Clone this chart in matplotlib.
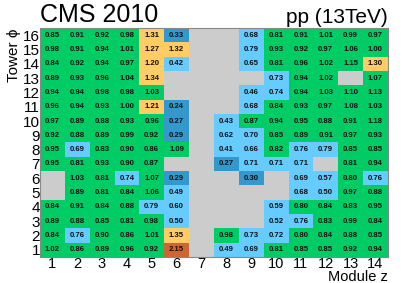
import numpy as np
import matplotlib
matplotlib.use("Agg")
import matplotlib.pyplot as plt
from matplotlib.colors import ListedColormap, BoundaryNorm

plt.rcParams["font.family"] = ["Liberation Sans", "DejaVu Sans"]

nan = np.nan

# response per tower, rows are phi 16 (top) down to 1 (bottom), columns z 1..14
phi_labels = list(range(16, 0, -1))
z_labels = list(range(1, 15))
values = [
    [0.85, 0.91, 0.92, 0.98, 1.31, 0.33, nan, nan, 0.68, 0.81, 0.91, 1.01, 0.99, 0.97],
    [0.98, 0.91, 0.94, 1.01, 1.27, 1.32, nan, nan, 0.79, 0.93, 0.92, 0.97, 1.06, 1.00],
    [0.84, 0.92, 0.94, 0.97, 1.20, 0.42, nan, nan, 0.65, 0.81, 0.96, 1.02, 1.15, 1.30],
    [0.89, 0.93, 0.96, 1.04, 1.34, nan, nan, nan, nan, 0.73, 0.94, 1.02, nan, 1.07],
    [0.94, 0.94, 0.98, 0.98, 1.03, nan, nan, nan, 0.46, 0.74, 0.94, 1.03, 1.10, 1.13],
    [0.96, 0.94, 0.93, 1.00, 1.21, 0.24, nan, nan, 0.68, 0.84, 0.93, 0.97, 1.08, 1.03],
    [0.97, 0.89, 0.88, 0.93, 0.96, 0.27, nan, 0.43, 0.87, 0.94, 0.95, 0.88, 0.91, 1.18],
    [0.92, 0.88, 0.89, 0.99, 0.92, 0.29, nan, 0.62, 0.70, 0.85, 0.89, 0.91, 0.97, 0.93],
    [0.95, 0.69, 0.83, 0.90, 0.86, 1.09, nan, 0.41, 0.66, 0.82, 0.76, 0.79, 0.85, 0.85],
    [0.95, 0.81, 0.93, 0.90, 0.87, nan, nan, 0.27, 0.71, 0.71, 0.71, nan, 0.81, 0.94],
    [nan, 1.03, 0.81, 0.74, 1.07, 0.29, nan, nan, 0.30, nan, 0.69, 0.57, 0.80, 0.76],
    [nan, 0.89, 0.81, 0.84, 1.06, 0.49, nan, nan, nan, nan, 0.68, 0.50, 0.97, 0.88],
    [0.84, 0.91, 0.84, 0.88, 0.79, 0.60, nan, nan, nan, 0.59, 0.80, 0.84, 0.83, 0.95],
    [0.89, 0.88, 0.85, 0.81, 0.98, 0.50, nan, nan, nan, 0.52, 0.76, 0.83, 0.99, 0.84],
    [0.84, 0.76, 0.90, 0.86, 1.01, 1.35, nan, 0.98, 0.73, 0.72, 0.80, 0.84, 0.88, 0.85],
    [1.02, 0.86, 0.89, 0.96, 0.92, 2.15, nan, 0.49, 0.69, 0.81, 0.85, 0.85, 0.92, 0.94],
]
data = np.array(values)

# colour bins
bounds = [0, 0.4, 0.8, 1.2, 1.5, 10]
colors = ["#3399cc", "#66ccff", "#00cc66", "#ffcc66", "#cc6633"]
cmap = ListedColormap(colors)
cmap.set_bad("#cccccc")
norm = BoundaryNorm(bounds, cmap.N)

fig = plt.figure(figsize=(4.07, 2.83), dpi=100)
ax = fig.add_axes([0.098, 0.092, 0.855, 0.809])
ax.imshow(np.ma.masked_invalid(data), cmap=cmap, norm=norm, aspect="auto",
          interpolation="nearest")

for i in range(data.shape[0]):
    for j in range(data.shape[1]):
        v = data[i, j]
        if not np.isnan(v):
            ax.text(j, i, f"{v:.2f}", ha="center", va="center",
                    fontsize=5.6, fontweight="bold", color="#111111")

ax.set_xticks(range(len(z_labels)))
ax.set_xticklabels(z_labels, fontsize=10.5)
ax.set_yticks(range(len(phi_labels)))
ax.set_yticklabels(phi_labels, fontsize=11)
ax.tick_params(length=0, pad=0)
ax.set_ylabel("Tower \u03d5", fontsize=11, loc="top", labelpad=1)
for s in ax.spines.values():
    s.set_color("#888888")

fig.text(0.953, -0.004, "Module z", fontsize=10.5, ha="right", va="bottom")
fig.text(0.098, 0.905, "CMS 2010", fontsize=18, ha="left", va="bottom")
fig.text(0.953, 0.905, "pp (13TeV)", fontsize=15, ha="right", va="bottom")

fig.savefig("out.png", dpi=100)
